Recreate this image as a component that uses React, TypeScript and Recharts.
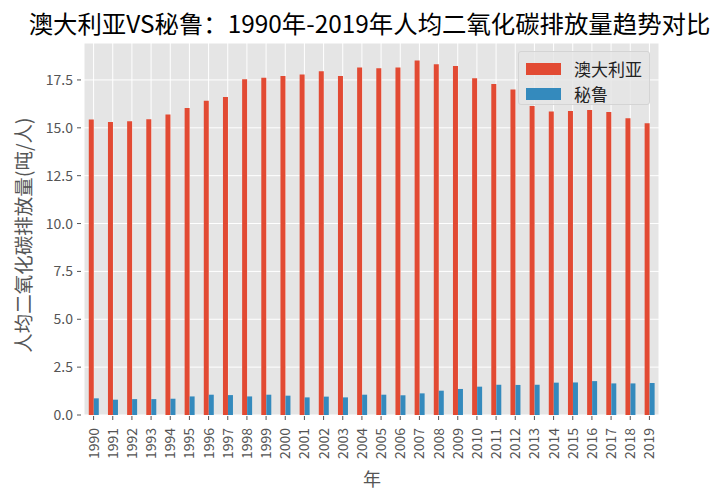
import { Bar, BarChart, CartesianGrid, XAxis, YAxis } from 'recharts'

const years = [
  '1990', '1991', '1992', '1993', '1994', '1995', '1996', '1997', '1998', '1999',
  '2000', '2001', '2002', '2003', '2004', '2005', '2006', '2007', '2008', '2009',
  '2010', '2011', '2012', '2013', '2014', '2015', '2016', '2017', '2018', '2019',
]
const australia = [
  15.43, 15.31, 15.34, 15.45, 15.69, 16.04, 16.42, 16.61, 17.54, 17.62,
  17.71, 17.78, 17.95, 17.71, 18.15, 18.11, 18.15, 18.51, 18.32, 18.23,
  17.59, 17.29, 17.0, 16.14, 15.85, 15.88, 15.93, 15.83, 15.5, 15.24,
]
const peru = [
  0.87, 0.8, 0.83, 0.83, 0.85, 0.97, 1.06, 1.04, 0.97, 1.06,
  1.01, 0.92, 0.96, 0.92, 1.06, 1.06, 1.03, 1.13, 1.27, 1.36,
  1.48, 1.58, 1.57, 1.58, 1.69, 1.7, 1.77, 1.65, 1.65, 1.67,
]
const yTicks = [0, 2.5, 5, 7.5, 10, 12.5, 15, 17.5]
const seriesNames = ['澳大利亚', '秘鲁']

const FONT = '"Noto Sans CJK SC", "DejaVu Sans", sans-serif'
const RED = '#E24A33'
const BLUE = '#348ABD'

const data = years.map((y, i) => ({ year: y, au: australia[i], pe: peru[i] }))

const XTick = (props: any) => {
  const { x, y, payload } = props
  return (
    <g transform={`translate(${x},${y})`}>
      <line x1={0} y1={-7} x2={0} y2={-3} stroke="#555" strokeWidth={1} />
      <text
        transform="rotate(-90)"
        x={-5}
        y={5}
        textAnchor="end"
        fontSize={14}
        fill="#555"
        fontFamily={FONT}
      >
        {payload.value}
      </text>
    </g>
  )
}

const YTick = (props: any) => {
  const { x, y, payload } = props
  return (
    <g>
      <line x1={x + 1} y1={y} x2={x + 5} y2={y} stroke="#555" strokeWidth={1} />
      <text x={x - 3} y={y + 5} textAnchor="end" fontSize={14} fill="#555" fontFamily={FONT}>
        {payload.value.toFixed(1)}
      </text>
    </g>
  )
}

export default function App() {
  return (
    <div style={{ position: 'relative', width: 723, height: 500, fontFamily: FONT }}>
      <div
        style={{
          position: 'absolute',
          left: 0,
          width: 723,
          top: -3,
          textAlign: 'center',
          fontSize: 24.4,
          color: '#000',
          whiteSpace: 'nowrap',
        }}
      >
        澳大利亚VS秘鲁：1990年-2019年人均二氧化碳排放量趋势对比
      </div>
      <div
        style={{
          position: 'absolute',
          left: 14,
          top: 227,
          transform: 'translate(-50%, -50%) rotate(-90deg)',
          whiteSpace: 'nowrap',
          fontSize: 19.5,
          color: '#555',
        }}
      >
        人均二氧化碳排放量(吨/人)
      </div>
      <div
        style={{
          position: 'absolute',
          left: 364,
          top: 470,
          transform: 'translate(-50%, -50%)',
          fontSize: 18,
          color: '#555',
        }}
      >
        年
      </div>
      <BarChart
        width={723}
        height={500}
        data={data}
        margin={{ top: 35, right: 72, left: 0, bottom: 0 }}
        barCategoryGap="25%"
        barGap={0}
      >
        <CartesianGrid fill="#E5E5E5" stroke="#FFFFFF" strokeWidth={1} />
        <XAxis
          dataKey="year"
          height={93}
          interval={0}
          axisLine={false}
          tickLine={false}
          tick={<XTick />}
        />
        <YAxis
          width={76}
          domain={[0, 19.43]}
          ticks={yTicks}
          axisLine={false}
          tickLine={false}
          tick={<YTick />}
          allowDataOverflow
        />
        <Bar dataKey="au" name={seriesNames[0]} fill={RED} isAnimationActive={false} />
        <Bar dataKey="pe" name={seriesNames[1]} fill={BLUE} isAnimationActive={false} />
      </BarChart>
      <div
        style={{
          position: 'absolute',
          left: 510,
          top: 43,
          width: 132,
          height: 54,
          background: 'rgba(229,229,229,0.8)',
          border: '1px solid #d4d4d4',
          borderRadius: 3,
          fontSize: 17,
          color: '#222',
          boxSizing: 'border-box',
          paddingTop: 5,
        }}
      >
        {seriesNames.map((name, i) => (
          <div key={name} style={{ display: 'flex', alignItems: 'center', height: 24, marginTop: i ? 1 : 0 }}>
            <span
              style={{
                display: 'inline-block',
                width: 35,
                height: 12,
                background: i ? BLUE : RED,
                marginLeft: 7,
                marginRight: 13,
              }}
            />
            <span style={{ lineHeight: '24px' }}>{name}</span>
          </div>
        ))}
      </div>
    </div>
  )
}
